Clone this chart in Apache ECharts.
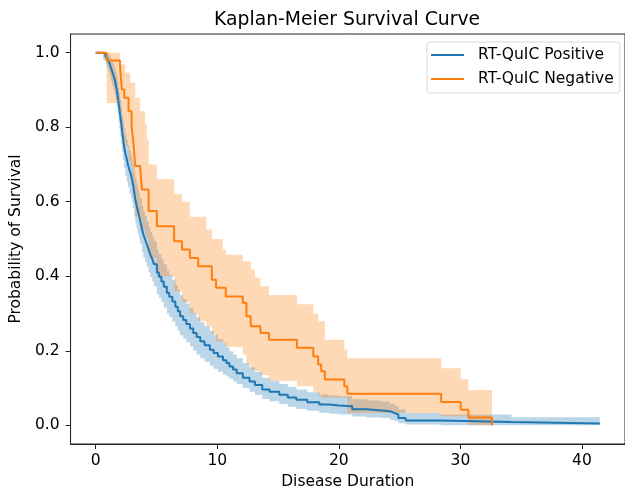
<!DOCTYPE html>
<html>
<head>
<meta charset="utf-8">
<script src="https://cdn.jsdelivr.net/npm/echarts@6/dist/echarts.min.js"></script>
<style>
  html, body { margin: 0; padding: 0; background: #fff; }
  #chart { width: 625px; height: 495px; }
</style>
</head>
<body>
<div id="chart"></div>
<script>
// tick labels
var xTicks = [0, 10, 20, 30, 40];
var yTicks = [0, 0.2, 0.4, 0.6, 0.8, 1.0];

// RT-QuIC Positive: step times, survival, CI lower, CI upper
var posT  = [0, 0.6, 0.8, 0.95, 1.05, 1.15, 1.25, 1.35, 1.45, 1.55,
             1.63, 1.72, 1.8, 1.88, 1.95, 2.02, 2.1, 2.17, 2.25, 2.33,
             2.44, 2.55, 2.65, 2.78, 2.9, 2.99, 3.08, 3.17, 3.26, 3.35,
             3.45, 3.55, 3.65, 3.8, 3.92, 4.05, 4.2, 4.35, 4.5, 4.65,
             4.8, 5.03, 5.2, 5.4, 5.6, 5.85, 6.05, 6.3, 6.55, 6.75,
             6.94, 7.2, 7.45, 7.75, 8.02, 8.3, 8.6, 8.95, 9.39, 9.7,
             10.05, 10.47, 10.75, 11.0, 11.3, 11.6, 12.1, 12.65, 13.1, 13.7,
             14.3, 15.1, 15.8, 16.5, 17.4, 18.4, 19.2, 20.0, 21.1, 22.3,
             23.5, 24.2, 24.6, 24.9, 25.5, 28.4, 34.2, 41.47];
var posS  = [1.0, 0.996, 0.99, 0.984, 0.978, 0.97, 0.96, 0.95, 0.94, 0.93,
             0.918, 0.902, 0.885, 0.866, 0.85, 0.83, 0.81, 0.79, 0.77, 0.75,
             0.73, 0.715, 0.70, 0.685, 0.672, 0.66, 0.645, 0.625, 0.606, 0.592,
             0.578, 0.564, 0.55, 0.528, 0.512, 0.5, 0.486, 0.472, 0.458, 0.446,
             0.432, 0.41, 0.399, 0.386, 0.372, 0.356, 0.345, 0.332, 0.318, 0.306,
             0.293, 0.283, 0.272, 0.26, 0.248, 0.237, 0.226, 0.215, 0.203, 0.194,
             0.185, 0.175, 0.167, 0.158, 0.15, 0.14, 0.128, 0.118, 0.108, 0.096,
             0.09, 0.082, 0.075, 0.069, 0.062, 0.056, 0.053, 0.051, 0.043, 0.040,
             0.038, 0.033, 0.029, 0.02, 0.013, 0.009, 0.005, 0.005];
var posLo = [1.0, 0.98, 0.968, 0.958, 0.948, 0.937, 0.924, 0.912, 0.9, 0.888,
             0.874, 0.855, 0.836, 0.815, 0.797, 0.775, 0.754, 0.733, 0.712, 0.691,
             0.67, 0.654, 0.639, 0.623, 0.61, 0.598, 0.583, 0.563, 0.543, 0.529,
             0.515, 0.501, 0.487, 0.466, 0.45, 0.438, 0.425, 0.411, 0.398, 0.386,
             0.373, 0.352, 0.342, 0.33, 0.316, 0.3, 0.29, 0.278, 0.265, 0.254,
             0.242, 0.233, 0.223, 0.212, 0.2, 0.19, 0.18, 0.171, 0.16, 0.152,
             0.144, 0.136, 0.131, 0.125, 0.118, 0.11, 0.1, 0.09, 0.082, 0.071,
             0.065, 0.057, 0.05, 0.044, 0.039, 0.034, 0.031, 0.029, 0.024, 0.021,
             0.02, 0.015, 0.012, 0.006, 0.002, 0.0, 0.0, 0.0];
var posHi = [1.0, 1.0, 1.0, 0.998, 0.995, 0.99, 0.983, 0.976, 0.968, 0.96,
             0.95, 0.936, 0.922, 0.905, 0.891, 0.873, 0.855, 0.836, 0.818, 0.799,
             0.78, 0.766, 0.752, 0.738, 0.726, 0.715, 0.7, 0.681, 0.663, 0.65,
             0.637, 0.624, 0.61, 0.589, 0.573, 0.562, 0.548, 0.533, 0.519, 0.507,
             0.493, 0.47, 0.459, 0.446, 0.432, 0.415, 0.404, 0.39, 0.376, 0.363,
             0.35, 0.339, 0.327, 0.314, 0.302, 0.29, 0.277, 0.266, 0.253, 0.243,
             0.232, 0.221, 0.209, 0.199, 0.19, 0.18, 0.167, 0.155, 0.143, 0.128,
             0.12, 0.111, 0.103, 0.096, 0.089, 0.083, 0.080, 0.078, 0.07, 0.067,
             0.064, 0.058, 0.052, 0.043, 0.033, 0.029, 0.022, 0.022];

// RT-QuIC Negative
var negT  = [0, 0.9, 2.0, 2.15, 2.35, 2.45, 2.7, 2.85, 2.95, 3.1, 3.25, 3.65, 3.8, 4.05, 4.2, 4.35, 5.03, 6.45, 7.1, 7.75,
             8.43, 9.1, 9.55, 9.9, 10.45, 10.7, 12.1, 12.4, 12.75, 13.1, 13.55, 14.25, 16.55, 17.9, 18.3, 18.55, 18.85, 20.45, 20.7, 28.42,
             30.02, 30.65, 32.6];
var negS  = [1.0, 0.979, 0.963, 0.901, 0.879, 0.879, 0.843, 0.843, 0.803, 0.758, 0.696, 0.696, 0.633, 0.633, 0.633, 0.575, 0.534, 0.494, 0.472, 0.449,
             0.427, 0.427, 0.391, 0.369, 0.369, 0.346, 0.329, 0.293, 0.266, 0.266, 0.248, 0.23, 0.208, 0.185, 0.163, 0.145, 0.123, 0.105, 0.085, 0.063,
             0.042, 0.021, 0.0];
var negLo = [1.0, 0.865, 0.84, 0.79, 0.76, 0.75, 0.71, 0.70, 0.66, 0.62, 0.56, 0.55, 0.525, 0.51, 0.50, 0.45, 0.40, 0.36, 0.33, 0.30,
             0.28, 0.265, 0.245, 0.225, 0.22, 0.21, 0.19, 0.165, 0.15, 0.145, 0.135, 0.12, 0.105, 0.09, 0.08, 0.074, 0.074, 0.074, 0.033, 0.024,
             0.024, 0.0, 0.0];
var negHi = [1.0, 1.0, 0.968, 0.968, 0.968, 0.946, 0.946, 0.919, 0.919, 0.919, 0.879, 0.843, 0.843, 0.807, 0.767, 0.70, 0.66, 0.62, 0.60, 0.56,
             0.56, 0.525, 0.50, 0.50, 0.472, 0.458, 0.44, 0.44, 0.418, 0.396, 0.373, 0.35, 0.325, 0.30, 0.279, 0.279, 0.23, 0.203, 0.18, 0.153,
             0.124, 0.095, 0.0];

var BLUE = '#1f77b4', ORANGE = '#ff7f0e';

function pairs(T, S) {
  var out = [];
  for (var i = 0; i < T.length; i++) out.push([T[i], S[i]]);
  return out;
}
function rows(T, Lo, Hi) {
  var out = [];
  for (var i = 0; i < T.length; i++) out.push([T[i], Lo[i], Hi[i]]);
  return out;
}

// stepped confidence band as one polygon, points through the axis scales
function bandRenderer(T, Lo, Hi, fill) {
  return function (params, api) {
    if (params.dataIndex !== 0) return null;
    var pts = [], i, tn;
    for (i = 0; i < T.length; i++) {
      tn = i + 1 < T.length ? T[i + 1] : T[i];
      pts.push(api.coord([T[i], Hi[i]]));
      pts.push(api.coord([tn, Hi[i]]));
    }
    for (i = T.length - 1; i >= 0; i--) {
      tn = i + 1 < T.length ? T[i + 1] : T[i];
      pts.push(api.coord([tn, Lo[i]]));
      pts.push(api.coord([T[i], Lo[i]]));
    }
    return { type: 'polygon', shape: { points: pts }, style: { fill: fill } };
  };
}

var font = 'DejaVu Sans';
var fs = 15.5;
var chart = echarts.init(document.getElementById('chart'), null, { renderer: 'canvas' });

var option = {
  animation: false,
  backgroundColor: '#fff',
  title: {
    text: 'Kaplan-Meier Survival Curve',
    left: 209, top: 6,
    textStyle: { fontFamily: font, fontSize: 18.8, fontWeight: 'normal', color: '#000' }
  },
  legend: {
    orient: 'vertical',
    left: 427, top: 42,
    data: ['RT-QuIC Positive', 'RT-QuIC Negative'],
    icon: 'rect',
    itemWidth: 33, itemHeight: 2,
    itemGap: 8,
    padding: [5, 6, 6, 4],
    borderColor: '#d9d9d9', borderWidth: 1, borderRadius: 3,
    backgroundColor: 'rgba(255,255,255,0.8)',
    textStyle: { fontFamily: font, fontSize: fs, color: '#000', padding: [0, 0, 0, 9] }
  },
  grid: {
    left: 69, top: 34, right: -3, bottom: 51,
    show: true, borderColor: '#222', borderWidth: 1, backgroundColor: 'transparent'
  },
  xAxis: {
    type: 'value', min: -2.07, max: 43.54,
    name: 'Disease Duration', nameLocation: 'middle', nameGap: 30,
    nameTextStyle: { fontFamily: font, fontSize: fs, color: '#000' },
    axisLine: { show: true, onZero: false, lineStyle: { color: '#222', width: 1 } },
    axisTick: { show: true, length: 5, lineStyle: { color: '#222' }, customValues: xTicks },
    axisLabel: { fontFamily: font, fontSize: fs, color: '#000', margin: 9, customValues: xTicks },
    splitLine: { show: false }
  },
  yAxis: {
    type: 'value', min: -0.05, max: 1.05,
    name: 'Probability of Survival', nameLocation: 'middle', nameGap: 43,
    nameTextStyle: { fontFamily: font, fontSize: fs, color: '#000' },
    axisLine: { show: true, onZero: false, lineStyle: { color: '#222', width: 1 } },
    axisTick: { show: true, length: 5, lineStyle: { color: '#222' }, customValues: yTicks },
    axisLabel: { fontFamily: font, fontSize: fs, color: '#000', margin: 11, customValues: yTicks,
                 formatter: function (v) { return v.toFixed(1); } },
    splitLine: { show: false }
  },
  series: [
    {
      name: 'posBand', type: 'custom', silent: true, z: 1,
      data: rows(posT, posLo, posHi), encode: { x: 0, y: [1, 2] },
      renderItem: bandRenderer(posT, posLo, posHi, 'rgba(31,119,180,0.3)')
    },
    {
      name: 'negBand', type: 'custom', silent: true, z: 1,
      data: rows(negT, negLo, negHi), encode: { x: 0, y: [1, 2] },
      renderItem: bandRenderer(negT, negLo, negHi, 'rgba(255,127,14,0.3)')
    },
    {
      name: 'RT-QuIC Positive', type: 'line', step: 'end', z: 3,
      data: pairs(posT, posS), showSymbol: false, symbol: 'none',
      color: BLUE, lineStyle: { color: BLUE, width: 2 }
    },
    {
      name: 'RT-QuIC Negative', type: 'line', step: 'end', z: 3,
      data: pairs(negT, negS), showSymbol: false, symbol: 'none',
      color: ORANGE, lineStyle: { color: ORANGE, width: 2 }
    }
  ]
};
chart.setOption(option);
</script>
</body>
</html>
